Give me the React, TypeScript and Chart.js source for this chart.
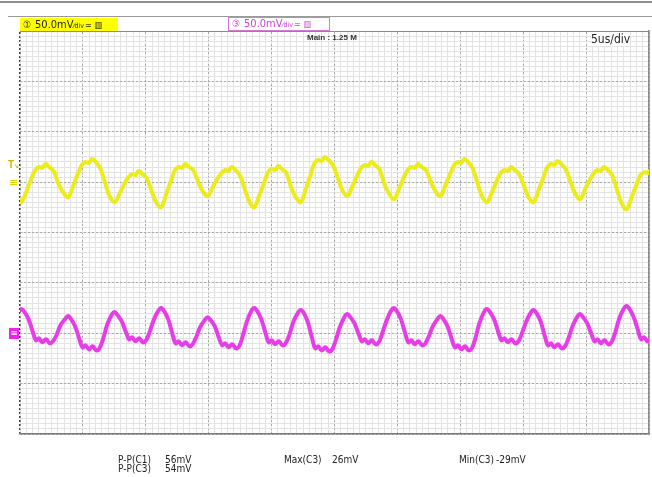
import React, { useEffect, useRef } from "react";
import { Chart, registerables } from "chart.js";

Chart.register(...registerables);

// ---- axes (oscilloscope screen: 10 x 8 divisions) ----
const timeMinUs = 0;
const timeMaxUs = 50; // 5us/div x 10 div
const voltMinMv = -200; // 50mV/div x 8 div
const voltMaxMv = 200;
const minorTimeStepUs = 0.5;
const majorTimeStepUs = 5;
const minorVoltStepMv = 5;
const majorVoltStepMv = 50;

// channel offsets on screen (ground marker positions)
const c1OffsetMv = 50;
const c3OffsetMv = -100;

// ---- CH1 (yellow) trace ----
const c1TimeUs = [
  0, 0.12, 0.52, 0.92, 1.22, 1.52, 1.77, 2.03, 2.32, 2.67, 3.07, 3.42,
  3.82, 4.22, 4.62, 4.92, 5.22, 5.47, 5.73, 6.02, 6.37, 6.77, 7.12,
  7.52, 7.92, 8.32, 8.62, 8.92, 9.17, 9.43, 9.72, 10.07, 10.47, 10.82,
  11.22, 11.62, 12.02, 12.32, 12.62, 12.87, 13.13, 13.42, 13.77, 14.17, 14.52,
  14.92, 15.32, 15.72, 16.02, 16.32, 16.57, 16.83, 17.12, 17.47, 17.87, 18.22,
  18.62, 19.02, 19.42, 19.72, 20.02, 20.27, 20.53, 20.82, 21.17, 21.57, 21.92,
  22.32, 22.72, 23.12, 23.42, 23.72, 23.97, 24.23, 24.52, 24.87, 25.27, 25.62,
  26.02, 26.42, 26.82, 27.12, 27.42, 27.67, 27.93, 28.22, 28.57, 28.97, 29.32,
  29.72, 30.12, 30.52, 30.82, 31.12, 31.37, 31.63, 31.92, 32.27, 32.67, 33.02,
  33.42, 33.82, 34.22, 34.52, 34.82, 35.07, 35.33, 35.62, 35.97, 36.37, 36.72,
  37.12, 37.52, 37.92, 38.22, 38.52, 38.77, 39.03, 39.32, 39.67, 40.07, 40.42,
  40.82, 41.22, 41.62, 41.92, 42.22, 42.47, 42.73, 43.02, 43.37, 43.77, 44.12,
  44.52, 44.92, 45.32, 45.62, 45.92, 46.17, 46.43, 46.72, 47.07, 47.47, 47.82,
  48.22, 48.62, 49.02, 49.32, 49.62, 49.87, 50,
];
const c1ValueMv = [
  -18, -20, -9, 4, 12, 15, 14, 18, 15, 11, -2, -10,
  -15, -4, 9, 17, 20, 19, 23, 20, 14, -1, -14,
  -20, -11, -1, 5, 8, 7, 11, 8, 4, -9, -20,
  -25, -12, 2, 12, 15, 14, 18, 15, 12, 0, -9,
  -14, -5, 4, 9, 12, 11, 15, 12, 7, -7, -19,
  -25, -13, 0, 10, 13, 12, 16, 13, 9, -6, -15,
  -20, -7, 8, 19, 22, 21, 25, 22, 17, 4, -8,
  -14, -4, 7, 14, 17, 16, 20, 17, 13, -2, -11,
  -17, -7, 5, 12, 15, 14, 18, 15, 12, 0, -9,
  -14, -3, 9, 17, 20, 19, 23, 20, 14, -1, -14,
  -20, -10, 2, 9, 12, 11, 15, 12, 8, -4, -15,
  -20, -8, 5, 15, 18, 17, 21, 18, 13, 0, -11,
  -17, -7, 3, 9, 12, 11, 15, 12, 7, -8, -21,
  -27, -15, -2, 7, 10, 9, 11,
];

// ---- CH3 (magenta) trace ----
const c3TimeUs = [
  0, 0.12, 0.36, 0.68, 1.0, 1.27, 1.52, 1.77, 2.07, 2.37, 2.62, 2.9, 3.22, 3.58,
  3.82, 4.06, 4.38, 4.7, 4.97, 5.22, 5.47, 5.77, 6.07, 6.32, 6.6, 6.92, 7.28,
  7.52, 7.76, 8.08, 8.4, 8.67, 8.92, 9.17, 9.47, 9.77, 10.02, 10.3, 10.62, 10.98,
  11.22, 11.46, 11.78, 12.1, 12.37, 12.62, 12.87, 13.17, 13.47, 13.72, 14.0, 14.32, 14.68,
  14.92, 15.16, 15.48, 15.8, 16.07, 16.32, 16.57, 16.87, 17.17, 17.42, 17.7, 18.02, 18.38,
  18.62, 18.86, 19.18, 19.5, 19.77, 20.02, 20.27, 20.57, 20.87, 21.12, 21.4, 21.72, 22.08,
  22.32, 22.56, 22.88, 23.2, 23.47, 23.72, 23.97, 24.27, 24.57, 24.82, 25.1, 25.42, 25.78,
  26.02, 26.26, 26.58, 26.9, 27.17, 27.42, 27.67, 27.97, 28.27, 28.52, 28.8, 29.12, 29.48,
  29.72, 29.96, 30.28, 30.6, 30.87, 31.12, 31.37, 31.67, 31.97, 32.22, 32.5, 32.82, 33.18,
  33.42, 33.66, 33.98, 34.3, 34.57, 34.82, 35.07, 35.37, 35.67, 35.92, 36.2, 36.52, 36.88,
  37.12, 37.36, 37.68, 38.0, 38.27, 38.52, 38.77, 39.07, 39.37, 39.62, 39.9, 40.22, 40.58,
  40.82, 41.06, 41.38, 41.7, 41.97, 42.22, 42.47, 42.77, 43.07, 43.32, 43.6, 43.92, 44.28,
  44.52, 44.76, 45.08, 45.4, 45.67, 45.92, 46.17, 46.47, 46.77, 47.02, 47.3, 47.62, 47.98,
  48.22, 48.46, 48.78, 49.1, 49.37, 49.62, 49.87, 50,
];
const c3ValueMv = [
  23, 24, 21, 14, 2, -7, -5, -9, -6, -10, -8, -2, 8, 14,
  17, 14, 7, -5, -14, -12, -16, -13, -17, -15, -6, 8, 18,
  21, 18, 12, 2, -6, -4, -8, -5, -9, -7, 1, 13, 22,
  25, 22, 14, 0, -10, -8, -12, -9, -13, -11, -4, 6, 13,
  16, 13, 7, -4, -12, -10, -14, -11, -15, -13, -3, 11, 22,
  25, 22, 14, 1, -9, -7, -11, -8, -12, -10, -2, 11, 20,
  23, 20, 11, -4, -15, -13, -17, -14, -18, -16, -7, 6, 16,
  19, 16, 10, 0, -8, -6, -10, -7, -11, -9, 0, 12, 22,
  25, 22, 14, 1, -9, -7, -11, -8, -12, -10, -3, 7, 14,
  17, 14, 7, -5, -14, -12, -16, -13, -17, -15, -5, 10, 21,
  24, 21, 14, 2, -7, -5, -9, -6, -10, -8, 0, 11, 20,
  23, 20, 12, -2, -12, -10, -14, -11, -15, -13, -5, 7, 16,
  19, 16, 10, 0, -8, -6, -10, -7, -11, -9, 0, 14, 24,
  27, 24, 16, 4, -6, -4, -8, -7,
];

// ---- screen texts ----
const c1Label = "50.0mV";
const c3Label = "50.0mV";
const timebaseLabel = "5us/div";
const mainLabel = "Main : 1.25 M";
const measureNames = ["P-P(C1)", "P-P(C3)", "Max(C3)", "Min(C3)"];
const measureValues = ["56mV", "54mV", "26mV", "-29mV"];

const NARROW = '"Liberation Sans Narrow", "DejaVu Sans Condensed", "Liberation Sans", Arial, sans-serif';

const zeroH = (s: any) => { s.height = 0; };
const zeroW = (s: any) => { s.width = 0; };

export default function App() {
  const ref = useRef<HTMLCanvasElement | null>(null);

  useEffect(() => {
    document.body.style.margin = "0";
    const canvas = ref.current;
    if (!canvas) return;
    const c1Data = c1TimeUs.map((t, i) => ({ x: t, y: c1ValueMv[i] + c1OffsetMv }));
    const c3Data = c3TimeUs.map((t, i) => ({ x: t, y: c3ValueMv[i] + c3OffsetMv }));

    const chart = new Chart(canvas, {
      type: "line",
      data: {
        datasets: [
          {
            label: "C1",
            data: c1Data,
            borderColor: "#ecec1a",
            borderWidth: 4,
            pointRadius: 0,
            tension: 0.35,
            borderJoinStyle: "round",
            borderCapStyle: "round",
            xAxisID: "x",
            yAxisID: "y",
          },
          {
            label: "C3",
            data: c3Data,
            borderColor: "#e83ce8",
            borderWidth: 4,
            pointRadius: 0,
            tension: 0.35,
            borderJoinStyle: "round",
            borderCapStyle: "round",
            xAxisID: "x",
            yAxisID: "y",
          },
        ],
      },
      options: {
        animation: false,
        responsive: false,
        events: [],
        layout: { padding: { left: 20, top: 31, right: 3, bottom: 43 } },
        plugins: { legend: { display: false }, tooltip: { enabled: false }, title: { display: false } },
        scales: {
          x: {
            type: "linear",
            position: "bottom",
            min: timeMinUs,
            max: timeMaxUs,
            z: -2,
            ticks: { display: false, stepSize: minorTimeStepUs, maxTicksLimit: 200 },
            grid: { color: "#e3e3e3", lineWidth: 1, drawTicks: false },
            border: { display: true, color: "#7c7c7c", width: 1.5 },
            afterFit: zeroH,
          },
          x2: {
            type: "linear",
            position: "top",
            min: timeMinUs,
            max: timeMaxUs,
            z: -1,
            ticks: { display: false, stepSize: majorTimeStepUs },
            grid: {
              color: (ctx: any) => (ctx.index === 0 ? "#3c3c3c" : "#a8a8a8"),
              lineWidth: (ctx: any) => (ctx.index === 0 ? 1.5 : 1),
              drawTicks: false,
            },
            border: { display: true, color: "#8a8a8a", width: 1, dash: [2, 2] },
            afterFit: zeroH,
          },
          y: {
            type: "linear",
            position: "left",
            min: voltMinMv,
            max: voltMaxMv,
            z: -2,
            ticks: { display: false, stepSize: minorVoltStepMv, maxTicksLimit: 200 },
            grid: { color: "#e3e3e3", lineWidth: 1, drawTicks: false },
            border: { display: false },
            afterFit: zeroW,
          },
          y2: {
            type: "linear",
            position: "right",
            min: voltMinMv,
            max: voltMaxMv,
            z: -1,
            ticks: { display: false, stepSize: majorVoltStepMv },
            grid: { color: "#a8a8a8", lineWidth: 1, drawTicks: false },
            border: { display: true, color: "#8a8a8a", width: 1.5, dash: [2, 2] },
            afterFit: zeroW,
          },
        },
      },
    } as any);
    return () => chart.destroy();
  }, []);

  const abs = (s: React.CSSProperties): React.CSSProperties => ({ position: "absolute", whiteSpace: "nowrap", ...s });

  return (
    <div style={{ position: "fixed", left: 0, top: 0, width: 652, height: 477, background: "#fff", overflow: "hidden" }}>
      <canvas ref={ref} width={652} height={477} style={{ position: "absolute", left: 0, top: 0, width: 652, height: 477 }} />
      {/* top rules */}
      <div style={abs({ left: 0, top: 1, width: 652, height: 2, background: "#8e8e8e" })} />
      <div style={abs({ left: 8, top: 16, width: 644, height: 1, background: "#9a9a9a" })} />
      {/* CH1 label */}
      <div style={abs({ left: 20, top: 18, width: 98, height: 13, background: "#ffff00", color: "#222", fontFamily: NARROW, fontSize: 11, lineHeight: "13px" })}>
        <span style={{ marginLeft: 3, fontSize: 10 }}>①</span>
        <span style={{ marginLeft: 4 }}>{c1Label}</span>
        <span style={{ fontSize: 7 }}>⁄div</span>
        <span style={{ fontSize: 9, marginLeft: 1 }}>≃</span>
        <span style={{ fontSize: 9, marginLeft: 3 }}>▥</span>
      </div>
      {/* CH3 label */}
      <div style={abs({ left: 228, top: 17, width: 100, height: 12, border: "1px solid #d27ad2", background: "#fff", color: "#d03cd0", fontFamily: NARROW, fontSize: 11, lineHeight: "12px" })}>
        <span style={{ marginLeft: 3, fontSize: 10 }}>③</span>
        <span style={{ marginLeft: 4 }}>{c3Label}</span>
        <span style={{ fontSize: 7 }}>⁄div</span>
        <span style={{ fontSize: 9, marginLeft: 1 }}>≃</span>
        <span style={{ fontSize: 9, marginLeft: 3 }}>▥</span>
      </div>
      {/* screen annotations */}
      <div style={abs({ left: 307, top: 33, fontFamily: '"Liberation Sans", Arial, sans-serif', fontWeight: "bold", fontSize: 8, color: "#333", lineHeight: "9px" })}>{mainLabel}</div>
      <div style={abs({ left: 591, top: 32, fontFamily: NARROW, fontSize: 12, color: "#222", lineHeight: "14px", background: "#fff" })}>{timebaseLabel}</div>
      {/* trigger and ground markers */}
      <div style={abs({ left: 8, top: 159, fontFamily: '"Liberation Sans", Arial, sans-serif', fontWeight: "bold", fontSize: 10, color: "#c9b800", lineHeight: "11px" })}>T<span style={{ fontSize: 6 }}>↘</span></div>
      <div style={abs({ left: 9, top: 177, fontFamily: '"DejaVu Sans", sans-serif', fontSize: 11, color: "#e0d400", lineHeight: "12px" })}>≡</div>
      <div style={abs({ left: 9, top: 328, width: 10, height: 11, background: "#ee22ee", color: "#fff", fontFamily: '"DejaVu Sans", sans-serif', fontSize: 9, lineHeight: "11px", textAlign: "center" })}>≡</div>
      {/* measurements */}
      <div style={abs({ left: 118, top: 455, fontFamily: NARROW, fontSize: 10, color: "#222", lineHeight: "9px" })}>{measureNames[0]}</div>
      <div style={abs({ left: 165, top: 455, fontFamily: NARROW, fontSize: 10, color: "#222", lineHeight: "9px" })}>{measureValues[0]}</div>
      <div style={abs({ left: 118, top: 464, fontFamily: NARROW, fontSize: 10, color: "#222", lineHeight: "9px" })}>{measureNames[1]}</div>
      <div style={abs({ left: 165, top: 464, fontFamily: NARROW, fontSize: 10, color: "#222", lineHeight: "9px" })}>{measureValues[1]}</div>
      <div style={abs({ left: 284, top: 455, fontFamily: NARROW, fontSize: 10, color: "#222", lineHeight: "9px" })}>{measureNames[2]}</div>
      <div style={abs({ left: 332, top: 455, fontFamily: NARROW, fontSize: 10, color: "#222", lineHeight: "9px" })}>{measureValues[2]}</div>
      <div style={abs({ left: 459, top: 455, fontFamily: NARROW, fontSize: 10, color: "#222", lineHeight: "9px" })}>{measureNames[3]}</div>
      <div style={abs({ left: 496, top: 455, fontFamily: NARROW, fontSize: 10, color: "#222", lineHeight: "9px" })}>{measureValues[3]}</div>
    </div>
  );
}
